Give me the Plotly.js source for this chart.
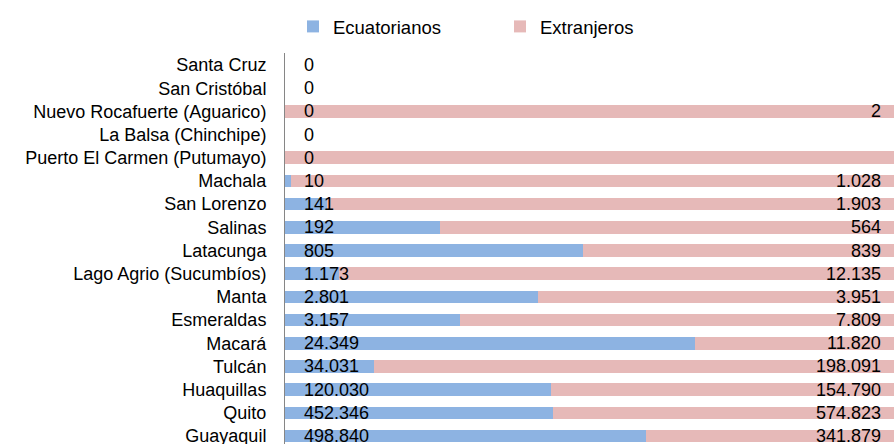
<!DOCTYPE html>
<html>
<head>
<meta charset="utf-8">
<script src="https://cdn.plot.ly/plotly-3.0.1.min.js"></script>
<style>html,body{margin:0;padding:0;overflow:hidden;background:#fff}#chart{width:894px;height:448px}</style>
</head>
<body>
<div id="chart"></div>
<script>
// Categories, top to bottom
const categories = [
  'Santa Cruz', 'San Cristóbal', 'Nuevo Rocafuerte (Aguarico)', 'La Balsa (Chinchipe)',
  'Puerto El Carmen (Putumayo)', 'Machala', 'San Lorenzo', 'Salinas', 'Latacunga',
  'Lago Agrio (Sucumbíos)', 'Manta', 'Esmeraldas', 'Macará', 'Tulcán', 'Huaquillas',
  'Quito', 'Guayaquil'
];
const ecuatorianos = [0, 0, 0, 0, 0, 10, 141, 192, 805, 1173, 2801, 3157, 24349, 34031, 120030, 452346, 498840];
// Puerto El Carmen: bar fully foreign, value not labelled in the source (estimated)
const extranjeros = [0, 0, 2, 0, 1, 1028, 1903, 564, 839, 12135, 3951, 7809, 11820, 198091, 154790, 574823, 341879];
const showExtLabel = [false, false, true, false, false, true, true, true, true, true, true, true, true, true, true, true, true];

const fmt = v => String(v).replace(/\B(?=(\d{3})+(?!\d))/g, '.');

const FONT = 'Liberation Sans, Arial, sans-serif';
const BLUE = '#8DB3E2';
const PINK = '#E6B9B8';

const traces = [
  { type: 'bar', orientation: 'h', name: 'Ecuatorianos', y: categories, x: ecuatorianos,
    marker: { color: BLUE }, hoverinfo: 'x+y' },
  { type: 'bar', orientation: 'h', name: 'Extranjeros', y: categories, x: extranjeros,
    marker: { color: PINK }, hoverinfo: 'x+y' }
];

const annotations = [];
categories.forEach((c, i) => {
  annotations.push({ x: 0, y: c, xref: 'x', yref: 'y', text: fmt(ecuatorianos[i]),
    xanchor: 'left', yanchor: 'middle', xshift: 17, showarrow: false,
    font: { family: FONT, size: 18, color: '#000' } });
  if (showExtLabel[i]) {
    annotations.push({ x: 100, y: c, xref: 'x', yref: 'y', text: fmt(extranjeros[i]),
      xanchor: 'right', yanchor: 'middle', xshift: -11, showarrow: false,
      font: { family: FONT, size: 18, color: '#000' } });
  }
});

const layout = {
  width: 894, height: 448,
  margin: { l: 285, r: 0, t: 53, b: 0, pad: 0 },
  paper_bgcolor: '#fff', plot_bgcolor: '#fff',
  barmode: 'stack', barnorm: 'percent', bargap: 0.46,
  font: { family: FONT, size: 18, color: '#000' },
  showlegend: true,
  legend: { orientation: 'h', x: 0.353, xanchor: 'center', y: 0.94, yanchor: 'middle',
    yref: 'container', font: { family: FONT, size: 18.5, color: '#000' },
    itemwidth: 30, entrywidth: 162, traceorder: 'normal' },
  xaxis: { range: [0, 100], visible: false, fixedrange: true },
  yaxis: { type: 'category', autorange: 'reversed', showline: true, linecolor: '#868686',
    linewidth: 1, ticks: '', ticklabelstandoff: 14, showgrid: false, zeroline: false,
    tickfont: { family: FONT, size: 18, color: '#000' } },
  annotations: annotations
};

Plotly.newPlot('chart', traces, layout, { displayModeBar: false, staticPlot: true });
</script>
</body>
</html>
